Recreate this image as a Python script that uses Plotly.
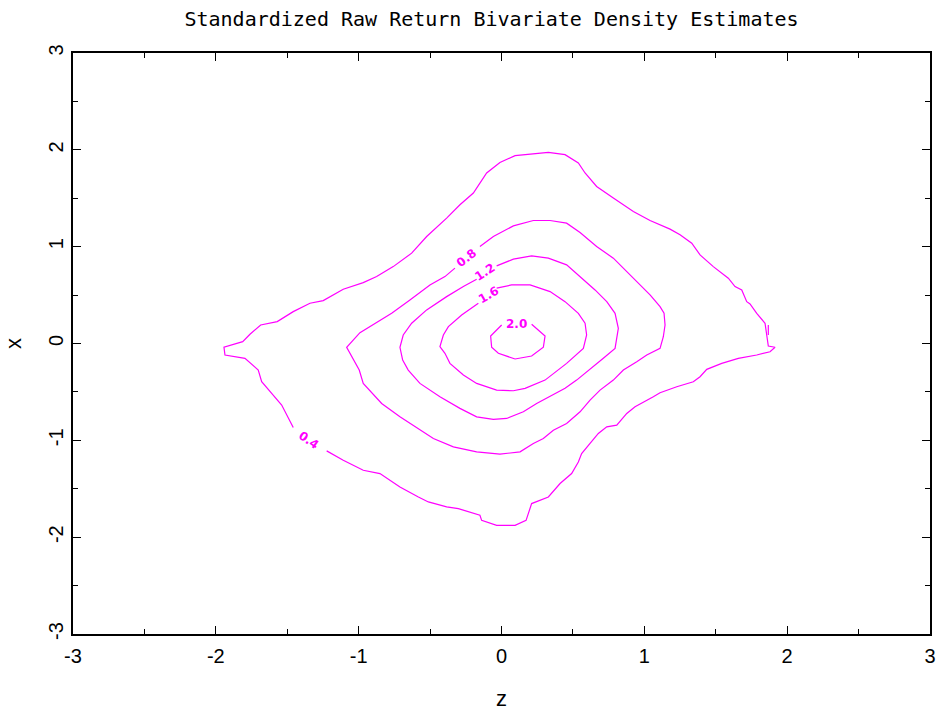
import plotly.graph_objects as go

# ---- data (contour paths, data units) ----
levels = ["0.4", "0.8", "1.2", "1.6", "2.0"]

c04_x = [-1.458, -1.539, -1.609, -1.679, -1.703, -1.796, -1.936, -1.943, -1.812, -1.761, -1.686, -1.570,
         -1.458, -1.341, -1.248, -1.108, -0.968, -0.874, -0.758, -0.629, -0.524, -0.384, -0.291, -0.197,
         -0.104, -0.011, 0.095, 0.328, 0.445, 0.538, 0.585, 0.666, 0.783, 0.923, 1.040, 1.180, 1.250,
         1.332, 1.390, 1.483, 1.588, 1.635, 1.682, 1.717, 1.740, 1.787, 1.845, 1.861, 1.868, 1.915, 1.880,
         1.787, 1.658, 1.542, 1.437, 1.390, 1.343, 1.227, 1.110, 1.063, 0.935, 0.877, 0.807, 0.737, 0.678,
         0.620, 0.561, 0.538, 0.491, 0.410, 0.328, 0.211, 0.172, 0.095, -0.034, -0.139, -0.151, -0.302,
         -0.384, -0.512, -0.582, -0.711, -0.851, -0.968, -1.108, -1.224]
c04_y = [-0.867, -0.636, -0.515, -0.395, -0.274, -0.153, -0.119, -0.039, 0.019, 0.095, 0.191, 0.226,
         0.329, 0.416, 0.443, 0.561, 0.629, 0.691, 0.794, 0.933, 1.105, 1.295, 1.433, 1.554, 1.761, 1.870,
         1.940, 1.974, 1.950, 1.864, 1.761, 1.622, 1.502, 1.363, 1.270, 1.181, 1.122, 1.036, 0.915, 0.794,
         0.674, 0.588, 0.553, 0.432, 0.409, 0.312, 0.209, 0.070, -0.026, -0.039, -0.085, -0.119, -0.153,
         -0.205, -0.267, -0.343, -0.395, -0.447, -0.509, -0.550, -0.654, -0.722, -0.843, -0.861, -0.929,
         -1.032, -1.136, -1.223, -1.343, -1.446, -1.585, -1.653, -1.826, -1.878, -1.878, -1.826, -1.774,
         -1.705, -1.688, -1.636, -1.585, -1.481, -1.343, -1.309, -1.205, -1.109]
# small detached piece of the 0.4 contour near the right tip
c04b_x = [1.868, 1.868]
c04b_y = [0.191, 0.088]

c08_x = [-0.151, -0.057, 0.083, 0.223, 0.340, 0.456, 0.550, 0.666, 0.783, 0.853, 0.947, 1.040, 1.110,
         1.138, 1.145, 1.133, 1.110, 1.017, 0.947, 0.853, 0.783, 0.690, 0.620, 0.550, 0.456, 0.363, 0.293,
         0.223, 0.130, -0.011, -0.174, -0.337, -0.477, -0.618, -0.711, -0.839, -0.968, -0.996, -1.033,
         -1.084, -0.991, -0.874, -0.769, -0.641, -0.501, -0.396, -0.326]
c08_y = [1.001, 1.105, 1.215, 1.270, 1.270, 1.243, 1.146, 1.001, 0.881, 0.778, 0.639, 0.502, 0.381,
         0.312, 0.191, 0.070, -0.050, -0.119, -0.188, -0.274, -0.378, -0.481, -0.584, -0.705, -0.826,
         -0.895, -0.981, -1.032, -1.119, -1.143, -1.119, -1.068, -0.981, -0.843, -0.757, -0.619, -0.412,
         -0.274, -0.171, -0.039, 0.112, 0.215, 0.312, 0.450, 0.605, 0.691, 0.778]

c12_x = [-0.034, 0.083, 0.211, 0.328, 0.456, 0.550, 0.655, 0.737, 0.795, 0.818, 0.795, 0.713, 0.620,
         0.526, 0.445, 0.328, 0.246, 0.153, 0.036, -0.057, -0.174, -0.291, -0.431, -0.571, -0.653, -0.692,
         -0.711, -0.688, -0.629, -0.524, -0.384, -0.267, -0.174]
c12_y = [0.802, 0.871, 0.905, 0.881, 0.812, 0.691, 0.553, 0.432, 0.312, 0.157, -0.050, -0.153, -0.267,
         -0.378, -0.463, -0.550, -0.619, -0.705, -0.774, -0.784, -0.757, -0.670, -0.550, -0.412, -0.274,
         -0.171, -0.039, 0.088, 0.209, 0.347, 0.484, 0.588, 0.664]

c16_x = [-0.034, 0.071, 0.200, 0.340, 0.445, 0.538, 0.585, 0.596, 0.573, 0.456, 0.305, 0.165, 0.083,
         -0.034, -0.174, -0.267, -0.361, -0.396, -0.431, -0.407, -0.372, -0.279, -0.162]
c16_y = [0.571, 0.605, 0.605, 0.536, 0.432, 0.312, 0.209, 0.088, -0.050, -0.205, -0.378, -0.463, -0.488,
         -0.481, -0.412, -0.326, -0.205, -0.101, -0.033, 0.088, 0.174, 0.295, 0.416]

c20_x = [0.211, 0.305, 0.293, 0.211, 0.095, -0.022, -0.069, -0.076, 0.001]
c20_y = [0.199, 0.078, -0.039, -0.129, -0.160, -0.101, -0.039, 0.078, 0.191]

label_x = [-1.353, -0.244, -0.116, -0.092, 0.106]
label_y = [-0.998, 0.881, 0.743, 0.502, 0.199]
label_angle = [35, -38, -33, -30, 0]

x_ticks = [-3, -2, -1, 0, 1, 2, 3]
y_ticks = [-3, -2, -1, 0, 1, 2, 3]

# ---- figure ----
MAG = "#FF00FF"
paths = [(c04_x, c04_y), (c04b_x, c04b_y), (c08_x, c08_y), (c12_x, c12_y), (c16_x, c16_y), (c20_x, c20_y)]
names = ["0.4", "0.4", "0.8", "1.2", "1.6", "2.0"]

fig = go.Figure()
for (px, py), nm in zip(paths, names):
    fig.add_trace(go.Scatter(x=px, y=py, mode="lines", name=nm, showlegend=False,
                             line=dict(color=MAG, width=1.2)))

for t, lx, ly, ang in zip(levels, label_x, label_y, label_angle):
    fig.add_annotation(x=lx, y=ly, text="<b>" + t + "</b>", showarrow=False, textangle=ang,
                       font=dict(family="DejaVu Sans", size=12, color=MAG))

tickfont = dict(family="Liberation Sans, Arial", size=20, color="black")
axis_common = dict(
    range=[-3, 3], showgrid=False, zeroline=False, automargin=False,
    showline=True, linecolor="black", linewidth=2, mirror="ticks",
    ticks="inside", ticklen=8, tickwidth=1, tickcolor="black",
    minor=dict(ticks="inside", ticklen=5, tickwidth=1, tickcolor="black", dtick=0.5, showgrid=False),
    tickfont=tickfont,
)

fig.update_xaxes(**axis_common, tickmode="array", tickvals=x_ticks,
                 ticktext=[str(v) for v in x_ticks], ticklabelstandoff=3,
                 title=dict(text="z", standoff=25,
                            font=dict(family="Liberation Sans, Arial", size=22, color="black")))
fig.update_yaxes(**axis_common, tickmode="array", tickvals=y_ticks,
                 ticktext=[str(v) for v in y_ticks], tickangle=-90, ticklabelstandoff=0,
                 title=dict(text="x", standoff=17,
                            font=dict(family="Liberation Sans, Arial", size=22, color="black")))

fig.update_layout(
    width=937, height=713,
    margin=dict(l=73, r=7, t=53, b=79),
    plot_bgcolor="white", paper_bgcolor="white",
    title=dict(text="Standardized Raw Return Bivariate Density Estimates",
               x=491.5 / 937, xref="container", xanchor="center",
               y=1 - 19 / 713, yref="container", yanchor="middle",
               font=dict(family="DejaVu Sans Mono", size=20, color="black")),
)

fig.write_html("out.html")
